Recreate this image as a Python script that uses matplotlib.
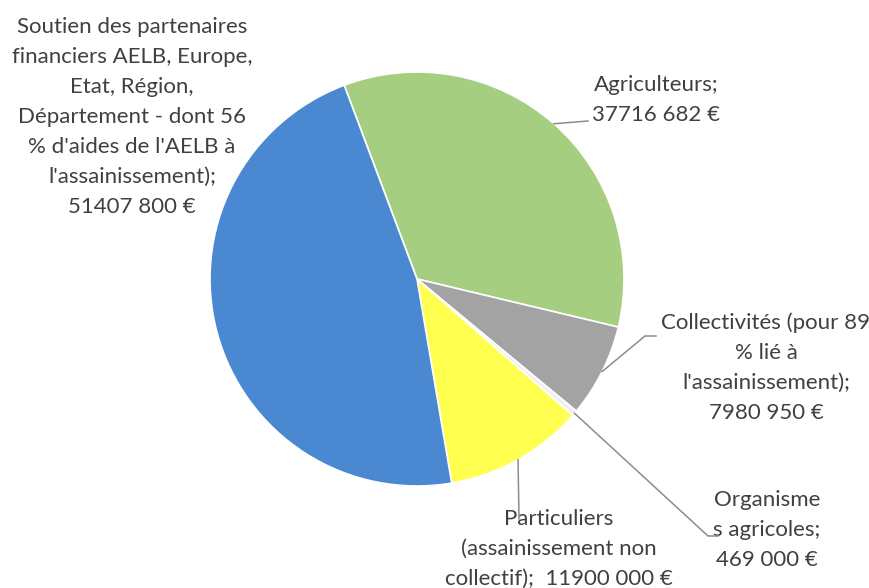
import matplotlib
matplotlib.use("Agg")
import matplotlib.pyplot as plt
import numpy as np

plt.rcParams['font.family'] = ['Lato', 'DejaVu Sans']

categories = [
    "Agriculteurs",
    "Collectivités (pour 89\n% lié à\nl'assainissement)",
    "Organisme\ns agricoles",
    "Particuliers\n(assainissement non\ncollectif)",
    "Soutien des partenaires\nfinanciers AELB, Europe,\nEtat, Région,\nDépartement - dont 56\n% d'aides de l'AELB à\nl'assainissement)",
]
values = [37716682, 7980950, 469000, 11900000, 51407800]
value_labels = ["37716 682 €", "7980 950 €", "469 000 €", "11900 000 €", "51407 800 €"]
colors = ["#A6CE80", "#A3A3A3", "#F3EEF6", "#FFFF4F", "#4A88D2"]

W, H = 870, 588
fig = plt.figure(figsize=(W / 100, H / 100), dpi=100)
ax = fig.add_axes([0, 0, 1, 1])
ax.set_xlim(0, W)
ax.set_ylim(0, H)
ax.set_aspect('equal')
ax.axis('off')

cx, cy, r = 417, H - 279, 207
start = 90 + 20.6
wedges, _ = ax.pie(values, colors=colors, startangle=start, counterclock=False,
                   center=(cx, cy), radius=r, frame=True,
                   wedgeprops=dict(edgecolor='white', linewidth=1.2))
ax.set_xlim(0, W)
ax.set_ylim(0, H)
ax.axis('off')

txt = dict(color='#404040', fontsize=16, ha='center', va='center', linespacing=1.62)

# label centres (pixels, y from top) and leader end points
label_pos = [(656, 100), (766, 368), (767, 530), (559, 549), (132, 117)]
leader_ends = [[(588, 121)], [(645, 336), (656, 336)], [(708, 536), (718, 536)],
               [(519, 519)], None]
for i, (cat, val) in enumerate(zip(categories, value_labels)):
    if i == 3:
        t = "Particuliers\n(assainissement non\ncollectif);  " + val
    else:
        t = cat + ";\n" + val
    lx, ly = label_pos[i]
    ax.text(lx, H - ly, t, **txt)
    w = wedges[i]
    mid = np.deg2rad((w.theta1 + w.theta2) / 2)
    sx, sy = cx + r * np.cos(mid), cy + r * np.sin(mid)
    if leader_ends[i] is not None:
        xs = [sx] + [p[0] for p in leader_ends[i]]
        ys = [sy] + [H - p[1] for p in leader_ends[i]]
        ax.plot(xs, ys, color='#8C8C8C', linewidth=1.1, zorder=5)

fig.savefig("out.png", dpi=100, facecolor='white')
